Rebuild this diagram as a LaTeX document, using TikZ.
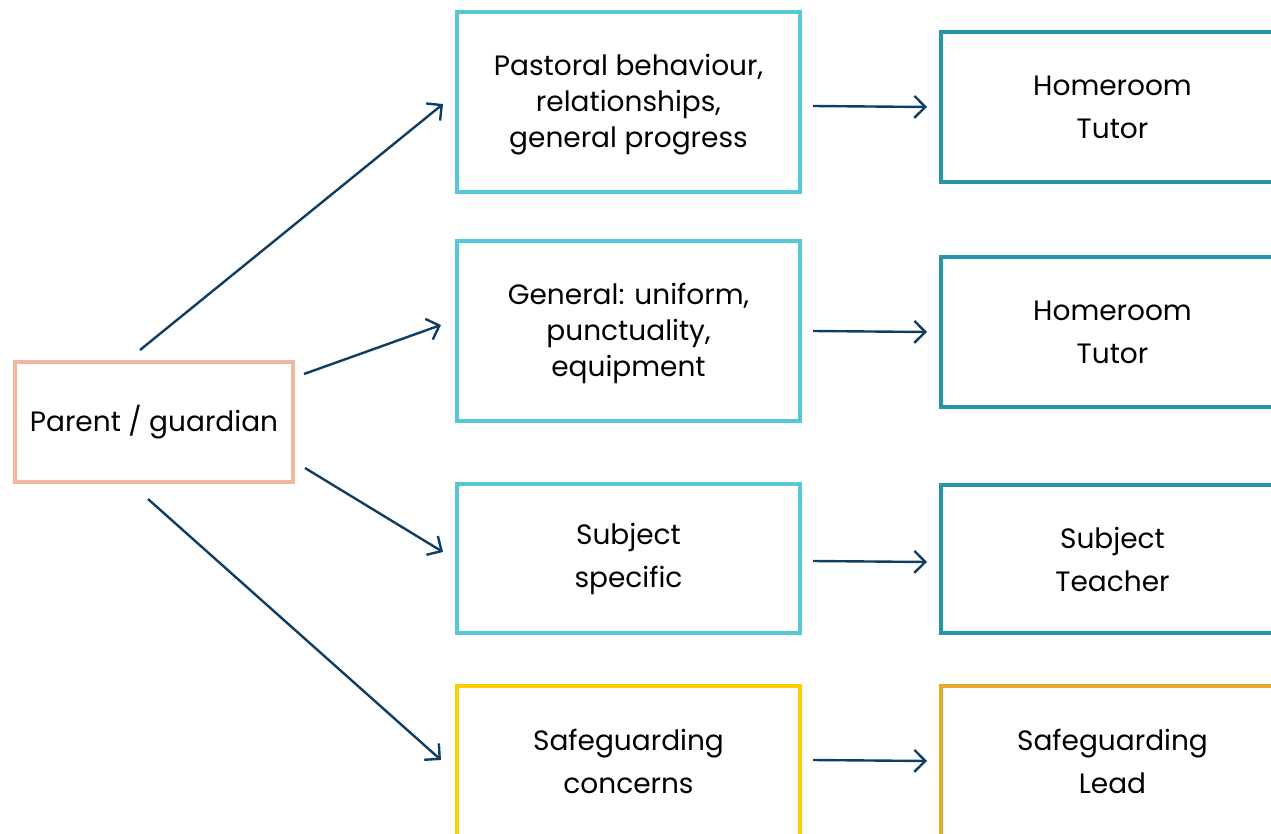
\documentclass[tikz,border=0pt]{standalone}
\usepackage{fontspec}
\setmainfont{Poppins}
\usetikzlibrary{arrows.meta}
\definecolor{salmon}{HTML}{F2B5A0}
\definecolor{cyanb}{HTML}{56C7D4}
\definecolor{tealb}{HTML}{2397A5}
\definecolor{yellowb}{HTML}{FFCC00}
\definecolor{goldb}{HTML}{E3AA2C}
\definecolor{navy}{HTML}{103E62}
\tikzset{
  box/.style={draw, line width=4pt, fill=white, align=center, inner sep=0pt,
    font=\fontsize{28}{36}\selectfont, text=black},
  twoline/.style={font=\fontsize{28}{43}\selectfont},
  conn/.style={draw=navy, line width=2.4pt, -{Straight Barb[length=11pt,width=22pt,line width=2.4pt]}},
}
\begin{document}
\begin{tikzpicture}[x=1pt,y=-1pt]
\useasboundingbox (0,0) rectangle (1271,834);
\clip (0,0) rectangle (1271,834);
% parent
\node[box, draw=salmon, minimum width=278pt, minimum height=120pt] (p) at (154,422) {Parent / guardian};
% middle column
\node[box, draw=cyanb, minimum width=343pt, minimum height=180pt] (m1) at (628.5,102) {\rule{0pt}{26pt}Pastoral behaviour,\\relationships,\\general progress};
\node[box, draw=cyanb, minimum width=343pt, minimum height=180pt] (m2) at (628.5,331) {\rule{0pt}{26pt}General: uniform,\\punctuality,\\equipment};
\node[box, twoline, draw=cyanb, minimum width=343pt, minimum height=149pt] (m3) at (628.5,558.5) {Subject\\specific};
\node[box, twoline, draw=yellowb, minimum width=343pt, minimum height=150pt] (m4) at (628.5,761) {Safeguarding\\concerns};
% right column
\node[box, twoline, draw=tealb, minimum width=343pt, minimum height=150pt] (r1) at (1112.5,107) {Homeroom\\Tutor};
\node[box, twoline, draw=tealb, minimum width=343pt, minimum height=150pt] (r2) at (1112.5,332) {Homeroom\\Tutor};
\node[box, twoline, draw=tealb, minimum width=343pt, minimum height=148pt] (r3) at (1112.5,559) {Subject\\Teacher};
\node[box, twoline, draw=goldb, minimum width=343pt, minimum height=150pt] (r4) at (1112.5,761) {Safeguarding\\Lead};
% arrow endpoints
\coordinate (a1s) at (140,350); \coordinate (a1e) at (443,104);
\coordinate (a2s) at (304,374); \coordinate (a2e) at (441,325);
\coordinate (a3s) at (305,468); \coordinate (a3e) at (443,552);
\coordinate (a4s) at (148,499); \coordinate (a4e) at (441,760);
\coordinate (h1s) at (813,106); \coordinate (h1e) at (927,107);
\coordinate (h2s) at (813,331); \coordinate (h2e) at (927,332);
\coordinate (h3s) at (813,561); \coordinate (h3e) at (927,562);
\coordinate (h4s) at (813,760); \coordinate (h4e) at (927,761);
\draw[conn] (a1s) -- (a1e);
\draw[conn] (a2s) -- (a2e);
\draw[conn] (a3s) -- (a3e);
\draw[conn] (a4s) -- (a4e);
\draw[conn] (h1s) -- (h1e);
\draw[conn] (h2s) -- (h2e);
\draw[conn] (h3s) -- (h3e);
\draw[conn] (h4s) -- (h4e);
\end{tikzpicture}
\end{document}
